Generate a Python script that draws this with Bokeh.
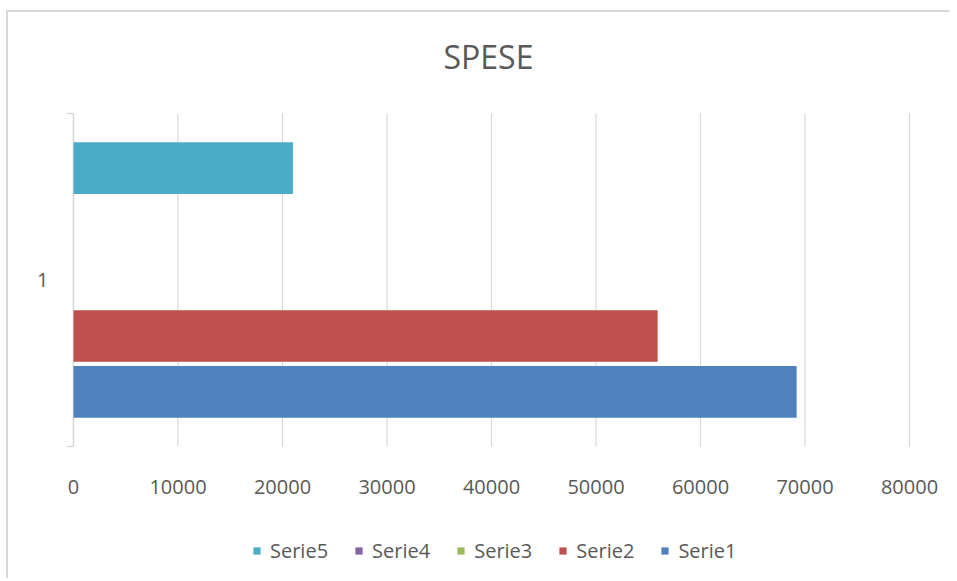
from bokeh.plotting import figure
from bokeh.models import Range1d, Legend, LegendItem
from bokeh.embed import file_html
from bokeh.resources import INLINE

# ---- data ----
title_text = "SPESE"
categories = ["1"]
series_names = ["Serie1", "Serie2", "Serie3", "Serie4", "Serie5"]
serie1 = [69200]
serie2 = [55900]
serie3 = [0]
serie4 = [0]
serie5 = [21000]
x_ticks = [0, 10000, 20000, 30000, 40000, 50000, 60000, 70000, 80000]
x_tick_labels = [str(t) for t in x_ticks]

series_values = [serie1, serie2, serie3, serie4, serie5]
colors = ["#4F81BD", "#C0504D", "#9BBB59", "#8064A2", "#4BACC6"]

FONT = "Open Sans"
TXT = "#595959"
GRID = "#d9d9d9"

ncat = len(categories)
# layout (pixels)
val_px = 836          # width of 0..80000
cat_px = 333          # height of the category band
pad_left_px = 55
pad_right_px = 36
pad_top_px = 12
frame_h = 477
span = x_ticks[-1] - x_ticks[0]
ux = span / val_px            # data units per pixel (x)
uy = ncat / cat_px            # data units per pixel (y)
x_min = x_ticks[0] - pad_left_px * ux
x_max = x_ticks[-1] + pad_right_px * ux
y_top = ncat + pad_top_px * uy
y_bottom = y_top - frame_h * uy

p = figure(frame_width=val_px + pad_left_px + pad_right_px, frame_height=frame_h,
           output_backend="svg", toolbar_location=None,
           x_range=Range1d(x_min, x_max),
           y_range=Range1d(y_bottom, y_top),
           x_axis_location=None, y_axis_location=None,
           min_border_left=10, min_border_right=4,
           min_border_top=86, min_border_bottom=0)
p.margin = (10, 0, 0, 6)
p.styles = {"border-left": "2px solid #d9d9d9", "border-top": "2px solid #d9d9d9"}
p.outline_line_color = None
p.grid.grid_line_color = None

p.title.text = title_text
p.title.text_font = FONT
p.title.text_font_size = "32px"
p.title.text_font_style = "normal"
p.title.text_color = TXT
p.title.align = "left"
p.title.vertical_align = "top"
p.title.offset = 425
p.title.standoff = 44

# value gridlines over the category band
p.segment(x0=x_ticks, y0=[0] * len(x_ticks), x1=x_ticks, y1=[ncat] * len(x_ticks),
          line_color=GRID, line_width=1.2)

# category axis line with boundary ticks and labels
bounds = list(range(ncat + 1))
p.segment(x0=[x_ticks[0]], y0=[0], x1=[x_ticks[0]], y1=[ncat],
          line_color=GRID, line_width=1.5)
p.segment(x0=[x_ticks[0] - 7 * ux] * len(bounds), y0=bounds,
          x1=[x_ticks[0]] * len(bounds), y1=bounds,
          line_color=GRID, line_width=1.5)
p.text(x=[x_ticks[0] - 25 * ux] * ncat, y=[i + 0.5 for i in range(ncat)], text=categories,
       text_align="right", text_baseline="middle",
       text_font={"value": FONT}, text_font_size="20px", text_color=TXT)

# value tick labels
label_y = ncat - (483.5 - 110) * uy
p.text(x=x_ticks, y=[label_y] * len(x_ticks), text=x_tick_labels,
       text_align="center", text_baseline="middle",
       text_font={"value": FONT}, text_font_size="20px", text_color=TXT)

slot = 0.168
bar_h = 0.155
n = len(series_names)
renderers = []
for i, (name, vals, col) in enumerate(zip(series_names, series_values, colors)):
    ys = [ci + 0.5 + (i - (n - 1) / 2) * slot for ci in range(ncat)]
    r = p.hbar(y=ys, left=0, right=vals, height=bar_h, fill_color=col, line_color=None)
    renderers.append((name, r))

items = [LegendItem(label=name, renderers=[r]) for name, r in reversed(renderers)]
legend = Legend(items=items, orientation="horizontal", location=(179 + pad_left_px, 14),
                glyph_width=9, glyph_height=9, label_standoff=9, spacing=26,
                label_text_font=FONT, label_text_font_size="20px", label_text_color=TXT,
                border_line_color=None, background_fill_alpha=0, padding=0, margin=0)
p.add_layout(legend, "center")

open("out.html", "w").write(file_html(p, INLINE))
